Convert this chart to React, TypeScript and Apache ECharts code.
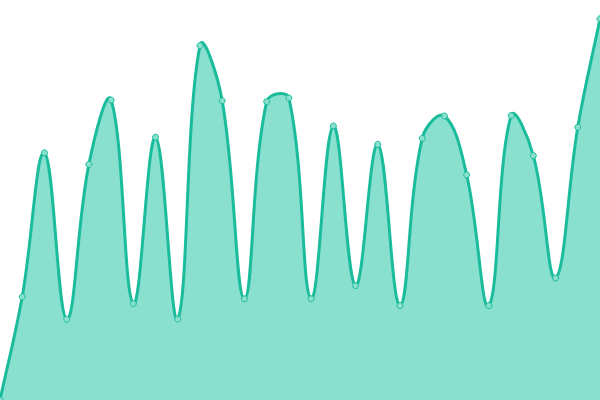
import React, { useEffect, useRef } from "react";
import * as echarts from "echarts";

const categories: string[] = Array.from({ length: 28 }, (_, i) => String(i + 1));
const values: number[] = [
  0, 25.8, 61.8, 20.2, 58.9, 75, 24.1, 65.7, 20.2, 88.6, 74.8, 25.3, 74.6, 75.5,
  25.3, 68.5, 28.6, 63.9, 23.6, 65.4, 71, 56.3, 23.6, 71.1, 61.1, 30.5, 68.2, 95.3,
];

const LINE = "#1abc9c";
const AREA = "#8ae0ce";
const TENSION = 0.4;

function splinePath(pts: number[][]): string {
  const n = pts.length;
  let d = `M${pts[0][0]},${pts[0][1]}`;
  const cps: { inX: number; inY: number; outX: number; outY: number }[] = [];
  for (let i = 0; i < n; i++) {
    const cur = pts[i];
    const prev = pts[i - 1] || cur;
    const next = pts[i + 1] || cur;
    const d01 = Math.hypot(cur[0] - prev[0], cur[1] - prev[1]);
    const d12 = Math.hypot(next[0] - cur[0], next[1] - cur[1]);
    const sum = d01 + d12 || 1;
    const fa = (TENSION * d01) / sum;
    const fb = (TENSION * d12) / sum;
    cps.push({
      inX: cur[0] - fa * (next[0] - prev[0]),
      inY: cur[1] - fa * (next[1] - prev[1]),
      outX: cur[0] + fb * (next[0] - prev[0]),
      outY: cur[1] + fb * (next[1] - prev[1]),
    });
  }
  for (let i = 1; i < n; i++) {
    const a = cps[i - 1];
    const b = cps[i];
    d += ` C${a.outX},${a.outY} ${b.inX},${b.inY} ${pts[i][0]},${pts[i][1]}`;
  }
  return d;
}

export default function App() {
  const ref = useRef<HTMLDivElement>(null);
  useEffect(() => {
    if (!ref.current) return;
    const chart = echarts.init(ref.current, undefined, { renderer: "svg" });
    chart.setOption({
      animation: false,
      grid: { left: 0, right: 0, top: 0, bottom: 0 },
      xAxis: {
        type: "category",
        data: categories,
        boundaryGap: false,
        show: false,
      },
      yAxis: { type: "value", min: 0, max: 100, show: false },
      series: [
        {
          type: "custom",
          data: values.map((v, i) => [i, v]),
          encode: { x: 0, y: 1 },
          clip: true,
          renderItem: (params: any, api: any) => {
            if (params.dataIndex !== 0) return null;
            const pts = values.map((v, i) => api.coord([i, v]));
            const base = api.coord([0, 0])[1];
            const lineD = splinePath(pts);
            const last = pts[pts.length - 1];
            const areaD = `${lineD} L${last[0]},${base} L${pts[0][0]},${base} Z`;
            return {
              type: "group",
              children: [
                {
                  type: "path",
                  shape: { pathData: areaD },
                  style: { fill: AREA, stroke: "none" },
                },
                {
                  type: "path",
                  shape: { pathData: lineD },
                  style: { fill: "none", stroke: LINE, lineWidth: 3 },
                },
              ],
            };
          },
        },
        {
          type: "line",
          data: values,
          symbol: "circle",
          symbolSize: 6,
          itemStyle: { color: "#8be0cd", borderColor: LINE, borderWidth: 1 },
          lineStyle: { width: 0, opacity: 0 },
          z: 3,
        },
      ],
    });
    return () => chart.dispose();
  }, []);
  return (
    <div
      ref={ref}
      style={{ width: 600, height: 400, position: "fixed", left: 0, top: 0 }}
    />
  );
}
